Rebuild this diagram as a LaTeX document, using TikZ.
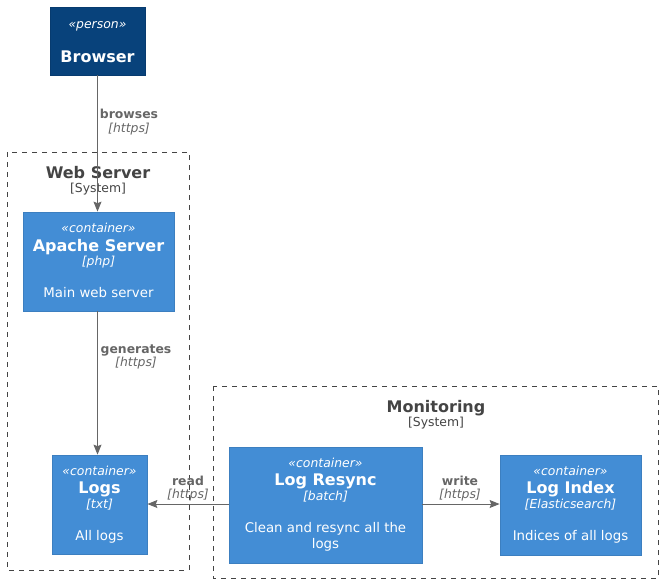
\documentclass[tikz,border=0pt]{standalone}
\usepackage{fontspec}
\setmainfont{DejaVu Sans}
\usetikzlibrary{arrows.meta}
\definecolor{persfill}{HTML}{08427B}
\definecolor{persdraw}{HTML}{073B6F}
\definecolor{contfill}{HTML}{438DD5}
\definecolor{contdraw}{HTML}{3C7FC0}
\definecolor{bnd}{HTML}{444444}
\definecolor{edge}{HTML}{666666}
\tikzset{
  person/.style={rectangle, fill=persfill, draw=persdraw, line width=0.6pt, inner sep=0pt},
  cont/.style={rectangle, fill=contfill, draw=contdraw, line width=0.6pt, inner sep=0pt},
  bound/.style={draw=bnd, line width=0.75pt, dash pattern=on 3.75pt off 3.75pt},
  txt/.style={inner sep=0pt, anchor=base},
  ttl/.style={txt, text=white, font=\bfseries\fontsize{12}{14}\selectfont},
  stereo/.style={txt, text=white, font=\itshape\fontsize{9.3}{11}\selectfont},
  desc/.style={txt, text=white, font=\fontsize{10}{12}\selectfont},
  elab/.style={txt, text=edge, font=\bfseries\fontsize{9.3}{11}\selectfont},
  eproto/.style={txt, text=edge, font=\itshape\fontsize{9.3}{11}\selectfont},
  btitle/.style={txt, text=bnd, font=\bfseries\fontsize{12}{14}\selectfont},
  bsys/.style={txt, text=bnd, font=\fontsize{9.3}{11}\selectfont},
  arr/.style={draw=edge, line width=0.75pt, -{Stealth[length=7.5pt,width=6pt,inset=1.2pt]}}
}
\begin{document}
\begin{tikzpicture}[x=0.75pt,y=-0.75pt]
\useasboundingbox (0,0) rectangle (663,583);

% boundaries
\draw[bound] (7,152) rectangle (189,570);
\node[btitle] (wst) at (98,178) {Web Server};
\node[bsys] (wss) at (98,192.5) {[System]};
\draw[bound] (213,386) rectangle (658,578);
\node[btitle] (mot) at (436,412) {Monitoring};
\node[bsys] (mos) at (436,426.5) {[System]};

% Browser
\node[person, minimum width=71.25pt, minimum height=51pt] (browser) at (97.5,41) {};
\node[stereo] (browser-s) at (97.5,28) {«person»};
\node[ttl] (browser-t) at (97.5,62) {Browser};

% Apache
\node[cont, minimum width=113.25pt, minimum height=74.25pt] (apache) at (98.5,261.5) {};
\node[stereo] (apache-s) at (98.5,232.5) {«container»};
\node[ttl] (apache-t) at (98.5,251) {Apache Server};
\node[stereo] (apache-k) at (98.5,265.5) {[php]};
\node[desc] (apache-d) at (98.5,297.5) {Main web server};

% Logs
\node[cont, minimum width=71.25pt, minimum height=74.25pt] (logs) at (99.5,504.5) {};
\node[stereo] (logs-s) at (99.5,475.5) {«container»};
\node[ttl] (logs-t) at (99.5,493) {Logs};
\node[stereo] (logs-k) at (99.5,508.5) {[txt]};
\node[desc] (logs-d) at (99.5,540.5) {All logs};

% Log Resync
\node[cont, minimum width=144.75pt, minimum height=87pt] (resync) at (325.5,505) {};
\node[stereo] (resync-s) at (325.5,467.5) {«container»};
\node[ttl] (resync-t) at (325.5,485) {Log Resync};
\node[stereo] (resync-k) at (325.5,500.5) {[batch]};
\node[desc] (resync-d1) at (325.5,532.5) {Clean and resync all the};
\node[desc] (resync-d2) at (325.5,548.5) {logs};

% Log Index
\node[cont, minimum width=105.75pt, minimum height=75pt] (index) at (570.5,505) {};
\node[stereo] (index-s) at (570.5,475.5) {«container»};
\node[ttl] (index-t) at (570.5,493) {Log Index};
\node[stereo] (index-k) at (570.5,508.5) {[Elasticsearch]};
\node[desc] (index-d) at (570.5,540.5) {Indices of all logs};

% edges
\draw[arr] (browser.south) -- (browser.south |- apache.north);
\node[elab] (l1) at (129,118) {browses};
\node[eproto] (l1p) at (129,132) {[https]};

\draw[arr] (browser.south |- apache.south) -- (browser.south |- logs.north);
\node[elab] (l2) at (136,353) {generates};
\node[eproto] (l2p) at (136,366.5) {[https]};

\draw[arr] (resync.west |- 0,504) -- (logs.east |- 0,504);
\node[elab] (l3) at (188,485.5) {read};
\node[eproto] (l3p) at (188,498.5) {[https]};

\draw[arr] (resync.east |- 0,504) -- (index.west |- 0,504);
\node[elab] (l4) at (460,485) {write};
\node[eproto] (l4p) at (460,498.5) {[https]};
\end{tikzpicture}
\end{document}
